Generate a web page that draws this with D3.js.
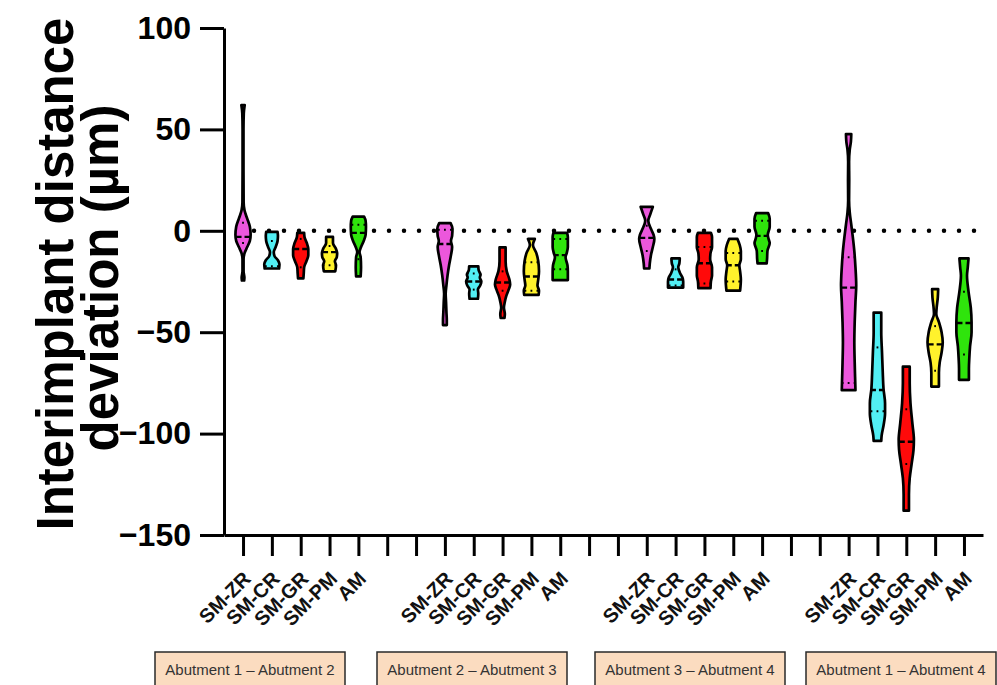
<!DOCTYPE html>
<html>
<head>
<meta charset="utf-8">
<script src="https://cdn.jsdelivr.net/npm/d3@7"></script>
<style>
  body { margin: 0; background: #fff; }
  svg { font-family: "Liberation Sans", Arial, sans-serif; }
</style>
</head>
<body>
<div id="chart"></div>
<script>
// categories
var groups = ["Abutment 1 \u2013 Abutment 2", "Abutment 2 \u2013 Abutment 3",
              "Abutment 3 \u2013 Abutment 4", "Abutment 1 \u2013 Abutment 4"];
var methods = ["SM-ZR", "SM-CR", "SM-GR", "SM-PM", "AM"];
var yTicks = [-150, -100, -50, 0, 50, 100];

// summary values (µm), one row per group, columns follow methods
var medians = [[-3, -11, -9, -10.5, -1],
               [-6.5, -25, -25.5, -22.5, -12],
               [-3.5, -24, -16, -17, -2.5],
               [-28, -78.5, -104, -56, -45.5]];
var q3s = [[4, -5, -4, -7.5, 3],
           [0.5, -21, -20, -15.5, -4],
           [2.5, -19, -8, -11, 5],
           [-13, -57.5, -88, -47, -30]];
var q1s = [[-6, -17.5, -18, -17, -14],
           [-30, -29, -29.5, -29.5, -19],
           [-10, -27, -26, -25, -10],
           [-75, -89, -115, -69, -61]];

// violin density profiles [value, relative density], from max down to min
var shapes = [
  [
    [[62,0.22],[58,0.1],[50,0.06],[30,0.06],[14,0.08],[10,0.2],[6,0.55],[2,0.9],[-2,1],[-5,0.9],[-8,0.55],[-11,0.2],[-14,0.07],[-20,0.07],[-23,0.18],[-24.5,0.15]],
    [[-0.5,0.75],[-2.5,0.8],[-5,0.75],[-8,0.5],[-10.5,0.25],[-12.5,0.35],[-14.5,0.8],[-16.5,1],[-18.6,0.95]],
    [[-1,0.45],[-3,0.5],[-6,0.8],[-9,1],[-12,1],[-15,0.75],[-18,0.45],[-21,0.4],[-23.5,0.35]],
    [[-3,0.45],[-6,0.45],[-9,0.85],[-11,1],[-13,0.95],[-15,0.7],[-17,0.85],[-20,0.75]],
    [[7,0.75],[5,0.95],[2,1],[-2,0.95],[-5,0.7],[-8,0.35],[-10.5,0.15],[-13,0.3],[-18,0.35],[-22.5,0.3]]
  ],
  [
    [[3.8,0.75],[1,1],[-2.5,0.95],[-5,0.8],[-8,0.95],[-12,0.8],[-17,0.55],[-22,0.35],[-27,0.2],[-31,0.1],[-35,0.15],[-40,0.2],[-44,0.25],[-46.5,0.25]],
    [[-17.5,0.6],[-19.5,0.65],[-21.5,0.9],[-23,0.8],[-25,1],[-27,0.85],[-29,0.55],[-31,0.6],[-33.5,0.55]],
    [[-8.2,0.4],[-15,0.4],[-20,0.55],[-24,0.9],[-26.5,1],[-29,0.8],[-32,0.5],[-35,0.3],[-38,0.18],[-41,0.3],[-43,0.25]],
    [[-4,0.45],[-7,0.2],[-11,0.65],[-15,0.9],[-20,1],[-24,0.9],[-27,0.8],[-29.5,1],[-31.6,0.95]],
    [[-1,0.9],[-3,1],[-8,1],[-11,0.85],[-13,0.7],[-17,0.95],[-20,1],[-24.3,1]]
  ],
  [
    [[11.8,0.8],[8,0.45],[5,0.2],[1,0.55],[-2,0.9],[-4,1],[-8,0.8],[-12,0.55],[-16,0.4],[-18.6,0.35]],
    [[-13.6,0.55],[-16,0.5],[-18,0.35],[-21,0.6],[-23,0.9],[-25,1],[-28,1]],
    [[-1,0.85],[-3,1],[-8,1],[-11,0.8],[-14,0.75],[-18,1],[-22,1],[-25,0.85],[-28.3,0.8]],
    [[-4,0.55],[-7,0.85],[-10,1],[-14,1],[-17,0.8],[-20,0.9],[-24,1],[-29.5,0.9]],
    [[8.7,0.8],[6,1],[2,1],[-2,0.75],[-4,0.85],[-6,1],[-10,0.7],[-14,0.65],[-16.1,0.6]]
  ],
  [
    [[47.7,0.35],[44,0.3],[40,0.15],[34,0.06],[25,0.08],[15,0.06],[9,0.15],[3,0.35],[-3,0.55],[-10,0.75],[-18,0.9],[-27,1],[-35,0.9],[-45,0.8],[-55,0.75],[-65,0.8],[-72,0.85],[-78.6,0.9]],
    [[-40.3,0.5],[-50,0.5],[-60,0.6],[-70,0.7],[-78,0.8],[-85,1],[-90,1],[-96,0.8],[-101,0.55],[-103.6,0.5]],
    [[-67,0.45],[-75,0.45],[-85,0.55],[-95,0.8],[-103,1],[-108,0.95],[-115,0.7],[-122,0.45],[-130,0.35],[-138,0.35]],
    [[-28.8,0.4],[-33,0.35],[-38,0.2],[-41,0.15],[-45,0.5],[-50,0.85],[-55,1],[-60,0.85],[-65,0.6],[-70,0.5],[-76.8,0.5]],
    [[-13.6,0.6],[-18,0.5],[-22,0.4],[-30,0.6],[-38,0.9],[-45,1],[-50,1],[-57,0.8],[-63,0.7],[-68,0.65],[-73.5,0.65]]
  ]
];

var colors = ["#ec57dc", "#52eff4", "#ff0a0a", "#fff22c", "#2fe40c"];

var width = 997, height = 685;
var slotsPerGroup = 7;   // 5 methods + 2 empty slots
var nSlots = groups.length * slotsPerGroup - 2;

var svg = d3.select("#chart")
  .append("svg")
    .attr("width", width)
    .attr("height", height);

var y = d3.scaleLinear().domain([-150, 100]).range([535, 28]);
var x = d3.scaleLinear().domain([-0.66, nSlots - 1 + 0.66]).range([224, 983]);
var w = d3.scaleLinear().domain([0, 1]).range([0, 7.6]);

// dotted zero line
svg.append("line")
  .attr("x1", x.range()[0] + 15).attr("x2", x.range()[1])
  .attr("y1", y(0)).attr("y2", y(0))
  .attr("stroke", "#000")
  .attr("stroke-width", 4.5)
  .attr("stroke-linecap", "round")
  .attr("stroke-dasharray", "0 15");

// Y axis
var yAxis = svg.append("g")
  .attr("transform", "translate(" + x.range()[0] + ",0)")
  .call(d3.axisLeft(y).tickValues(yTicks).tickSize(24).tickSizeOuter(0).tickPadding(9));
yAxis.select(".domain").attr("stroke-width", 3);
yAxis.selectAll(".tick line").attr("stroke-width", 3);
yAxis.selectAll(".tick text")
  .attr("font-size", 32)
  .attr("font-weight", "bold")
  .attr("font-family", "'Liberation Sans', Arial, sans-serif")
  .attr("fill", "#000");

// X axis
var xAxis = svg.append("g")
  .attr("transform", "translate(0," + y.range()[0] + ")")
  .call(d3.axisBottom(x).tickValues(d3.range(nSlots)).tickSize(21).tickSizeOuter(0).tickFormat(""));
xAxis.select(".domain").attr("stroke-width", 3);
xAxis.selectAll(".tick line").attr("stroke-width", 3);

// y title
svg.append("text")
  .attr("transform", "translate(73,274) rotate(-90)")
  .attr("text-anchor", "middle")
  .attr("font-size", 51)
  .attr("font-weight", "bold")
  .text("Interimplant distance");
svg.append("text")
  .attr("transform", "translate(118,278) rotate(-90)")
  .attr("text-anchor", "middle")
  .attr("font-size", 51)
  .attr("font-weight", "bold")
  .text("deviation (\u00b5m)");

function widthAt(profile, v) {
  for (var i = 0; i < profile.length - 1; i++) {
    var a = profile[i], b = profile[i + 1];
    if (v <= a[0] && v >= b[0]) {
      var t = (a[0] - v) / (a[0] - b[0]);
      return a[1] + t * (b[1] - a[1]);
    }
  }
  return profile[profile.length - 1][1];
}

var area = d3.area()
  .curve(d3.curveMonotoneY);

groups.forEach(function(g, gi) {
  methods.forEach(function(m, mi) {
    var cx = x(gi * slotsPerGroup + mi);
    var prof = shapes[gi][mi];

    svg.append("path")
      .datum(prof)
      .attr("d", area
        .y(function(d) { return y(d[0]); })
        .x0(function(d) { return cx - w(d[1]); })
        .x1(function(d) { return cx + w(d[1]); }))
      .attr("fill", colors[mi])
      .attr("stroke", "#000")
      .attr("stroke-width", 2.7)
      .attr("stroke-linejoin", "round");

    // median (dashed)
    var hm = w(widthAt(prof, medians[gi][mi]));
    var L = 2 * hm;
    svg.append("line")
      .attr("x1", cx - hm).attr("x2", cx + hm)
      .attr("y1", y(medians[gi][mi])).attr("y2", y(medians[gi][mi]))
      .attr("stroke", "#000")
      .attr("stroke-width", 2.4)
      .attr("stroke-dasharray", ((L - 3) / 2) + " 3 " + ((L - 3) / 2));

    // quartiles (dotted)
    [q1s[gi][mi], q3s[gi][mi]].forEach(function(q) {
      var hq = w(widthAt(prof, q));
      svg.append("line")
        .attr("x1", cx - hq).attr("x2", cx + hq)
        .attr("y1", y(q)).attr("y2", y(q))
        .attr("stroke", "#000")
        .attr("stroke-width", 2)
        .attr("stroke-dasharray", "1.8 4.2")
        .attr("stroke-dashoffset", 6 - ((hq - 0.9) % 6));
    });

    // category label
    svg.append("text")
      .attr("transform", "translate(" + (cx + 9) + "," + 580 + ") rotate(-45)")
      .attr("text-anchor", "end")
      .attr("font-size", 20)
      .attr("font-weight", "bold")
      .attr("fill", "#111")
      .text(m);
  });
});

// group boxes
var boxLeft = [155, 377, 595, 806];
groups.forEach(function(g, gi) {
  svg.append("rect")
    .attr("x", boxLeft[gi]).attr("y", 652)
    .attr("width", 190).attr("height", 45)
    .attr("fill", "#fbdcc0")
    .attr("stroke", "#2a2a2a")
    .attr("stroke-width", 1.5);
  svg.append("text")
    .attr("x", boxLeft[gi] + 95).attr("y", 675)
    .attr("text-anchor", "middle")
    .attr("font-size", 15)
    .attr("fill", "#333")
    .text(g);
});
</script>
</body>
</html>
